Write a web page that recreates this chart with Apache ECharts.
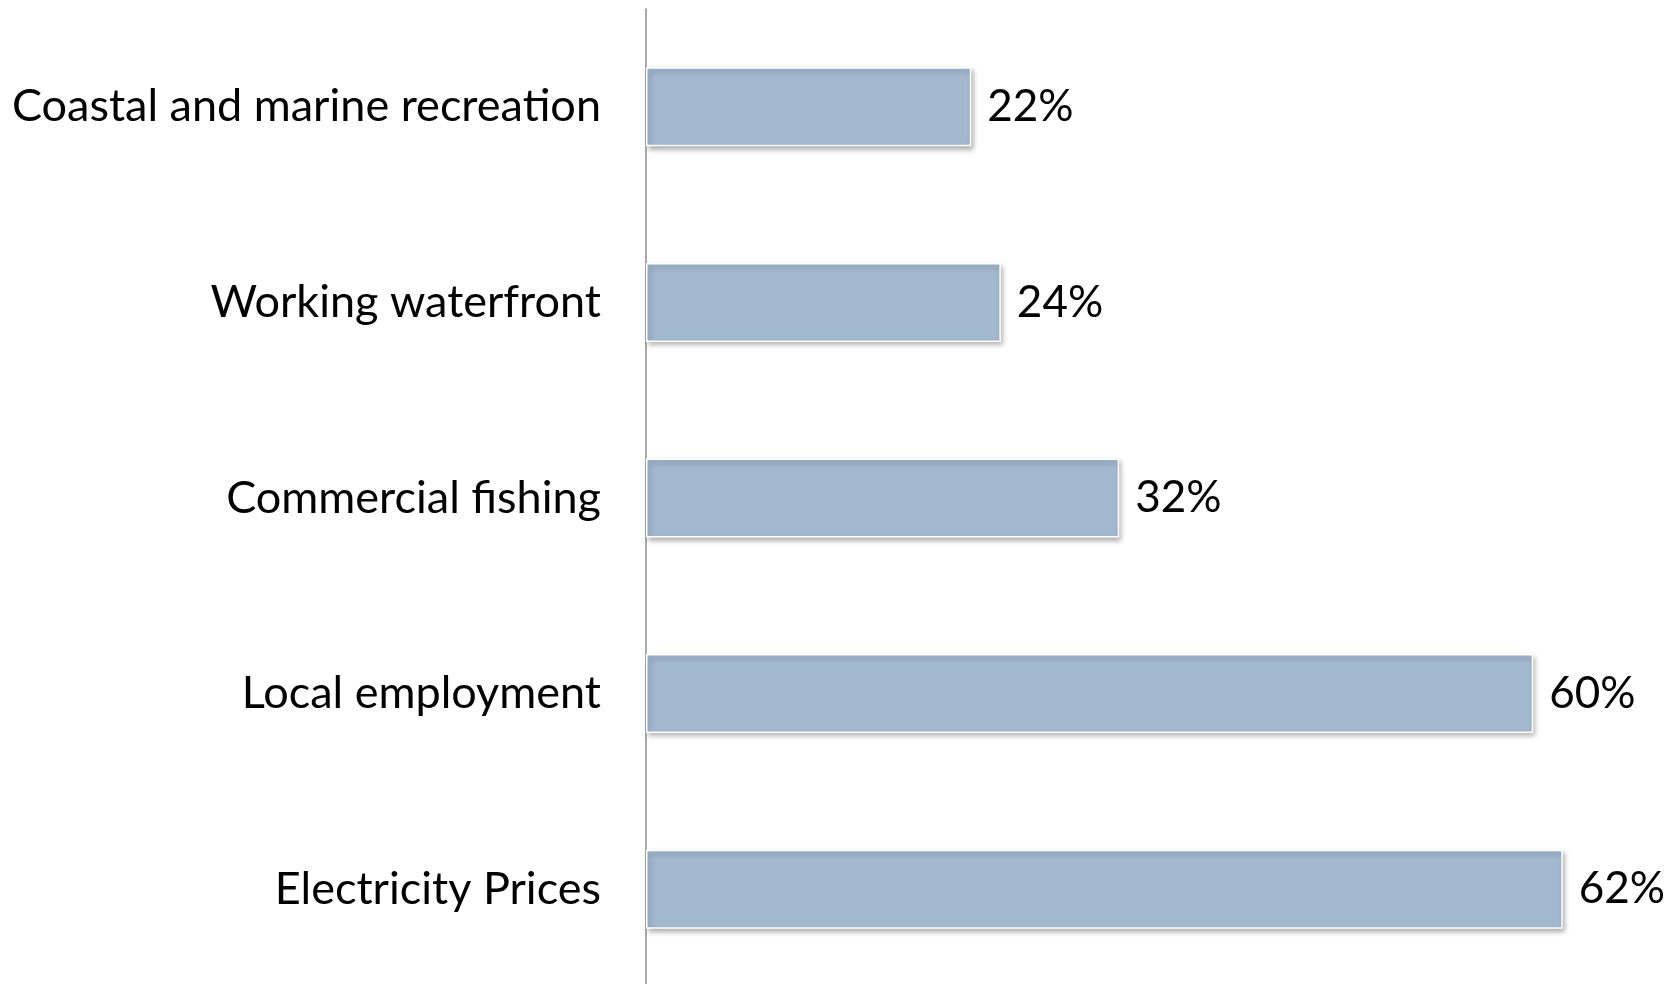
<!DOCTYPE html>
<html>
<head>
<meta charset="utf-8">
<script src="https://cdn.jsdelivr.net/npm/echarts@6/dist/echarts.min.js"></script>
<style>
  html, body { margin: 0; padding: 0; background: #fff; }
  #chart { width: 1679px; height: 984px; }
</style>
</head>
<body>
<div id="chart"></div>
<script>
// Share of respondents citing each issue (%)
const categories = [
  'Coastal and marine recreation',
  'Working waterfront',
  'Commercial fishing',
  'Local employment',
  'Electricity Prices'
];
const values = [22, 24, 32, 60, 62];

const FONT = 'Lato, "Open Sans", sans-serif';

const chart = echarts.init(document.getElementById('chart'));
chart.setOption({
  backgroundColor: '#ffffff',
  animation: false,
  grid: {
    left: 646, top: 9, width: 1035, height: 978,
    containLabel: false,
    outerBoundsMode: 'none'
  },
  xAxis: {
    type: 'value',
    min: 0,
    max: 70,
    show: false
  },
  yAxis: {
    type: 'category',
    data: categories,
    inverse: true,
    axisLine: { show: true, lineStyle: { color: '#8c8c8c', width: 1.5 } },
    axisTick: { show: false },
    axisLabel: {
      color: '#000',
      fontFamily: FONT,
      fontSize: 45,
      margin: 45
    },
    splitLine: { show: false }
  },
  series: [{
    type: 'bar',
    data: values,
    barWidth: 79,
    itemStyle: {
      color: '#a2b8cf',
      borderColor: '#ffffff',
      borderWidth: 1.5,
      shadowColor: 'rgba(0,0,0,0.3)',
      shadowBlur: 5,
      shadowOffsetX: 2,
      shadowOffsetY: 3
    },
    label: {
      show: true,
      position: 'right',
      distance: 16,
      color: '#000',
      fontFamily: FONT,
      fontSize: 44,
      formatter: p => p.value + '%'
    }
  }]
});
</script>
</body>
</html>
